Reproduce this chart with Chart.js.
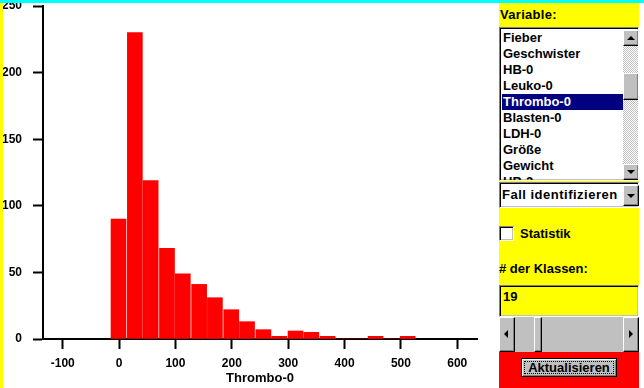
<!DOCTYPE html>
<html lang="de">
<head>
  <title>Thrombo-0 Histogramm</title>
  <script src="https://cdn.jsdelivr.net/npm/chart.js"></script>
  <style>
    body { margin: 0; width: 644px; height: 388px; overflow: hidden; background: #fff; position: relative;
           font: bold 13px "Liberation Sans", Arial, sans-serif; color: #000; }
    .abs { position: absolute; box-sizing: border-box; }
    #chartBox { left: 0; top: 0; width: 499px; height: 388px; }
    .sunken { border: 1px solid; border-color: #808080 #fff #fff #808080; box-shadow: inset 1px 1px #000, inset -1px -1px #c0c0c0; }
    .raised { background: #c0c0c0; border: 1px solid; border-color: #fff #000 #000 #fff; box-shadow: inset -1px -1px #808080; }
    .lbl { line-height: 16px; white-space: nowrap; }
    .item { height: 16px; line-height: 16px; padding-left: 1px; white-space: nowrap; }
    .item.sel { background: #000080; color: #fff; width: 121px; }
    .tri-up, .tri-down, .tri-left, .tri-right { position: absolute; width: 0; height: 0; border: solid transparent; }
    .tri-up { border-width: 0 4px 4px 4px; border-bottom-color: #000; left: 3px; top: 5px; }
    .tri-down { border-width: 4px 4px 0 4px; border-top-color: #000; left: 3px; top: 5px; }
    .tri-left { border-width: 4px 4px 4px 0; border-right-color: #000; left: 4px; top: 12px; }
    .tri-right { border-width: 4px 0 4px 4px; border-left-color: #000; left: 5px; top: 12px; }
  </style>
</head>
<body>
<div id="chartBox" class="abs"><canvas id="histChart"></canvas></div>

<div class="abs" style="left:0;top:0;width:3px;height:388px;background:#ffff00"></div>

<div class="abs" style="left:499px;top:3px;width:140px;height:349px;background:#ffff00"></div>
<div class="abs" style="left:499px;top:352px;width:140px;height:36px;background:#ff0000"></div>

<div class="abs lbl" style="left:500px;top:7px;letter-spacing:0.3px">Variable:</div>

<div class="abs sunken" style="left:499px;top:27px;width:140px;height:154px;background:#fff;overflow:hidden">
  <div id="varList" class="abs" style="left:2px;top:2px;width:121px;height:150px;overflow:hidden"></div>
  <div class="abs" style="left:123px;top:2px;width:16px;height:150px;background:repeating-conic-gradient(#c0c0c0 0 25%, #fff 0 50%) 0 0/2px 2px">
    <div class="abs raised" style="left:0;top:0;width:16px;height:16px"><div class="tri-up"></div></div>
    <div class="abs raised" style="left:0;top:43px;width:16px;height:27px"></div>
    <div class="abs raised" style="left:0;top:134px;width:16px;height:16px"><div class="tri-down"></div></div>
  </div>
</div>

<div class="abs sunken" style="left:499px;top:182px;width:140px;height:26px;background:#fff">
  <div class="abs lbl" style="left:2px;top:4px;letter-spacing:0.5px">Fall identifizieren</div>
  <div class="abs raised" style="left:123px;top:2px;width:16px;height:21px"><div class="tri-down" style="top:8px"></div></div>
</div>

<div class="abs sunken" style="left:499px;top:226px;width:15px;height:15px;background:#fff"></div>
<div class="abs lbl" style="left:520px;top:226px">Statistik</div>

<div class="abs lbl" style="left:499px;top:261px"># der Klassen:</div>

<div class="abs sunken" style="left:499px;top:285px;width:140px;height:32px;background:#ffff00">
  <div class="abs lbl" style="left:3px;top:3px">19</div>
</div>

<div class="abs" style="left:499px;top:317px;width:140px;height:35px;background:#c0c0c0">
  <div class="abs raised" style="left:0;top:0;width:16px;height:35px"><div class="tri-left"></div></div>
  <div class="abs raised" style="left:35px;top:0;width:8px;height:35px"></div>
  <div class="abs raised" style="left:124px;top:0;width:16px;height:35px"><div class="tri-right"></div></div>
</div>

<div class="abs" style="left:521px;top:358px;width:96px;height:19px;background:#c0c0c0;border:1px solid #000;box-shadow:inset 1px 1px #fff, inset -1px -1px #808080">
  <div class="abs lbl" style="left:2px;top:2px;width:90px;height:13px;border:1px dotted #000;line-height:11px;text-align:center">Aktualisieren</div>
</div>

<div class="abs" style="left:0;top:0;width:644px;height:3px;background:#00ffff"></div>

<script>
  // histogram of Thrombo-0, 19 classes
  const binCenters = [-1, 28, 56, 85, 113, 142, 170, 199, 227, 256, 284, 313, 341, 370, 398, 427, 455, 484, 512];
  const counts = [90, 230, 119, 68, 49, 41, 31, 22, 13, 7, 2, 6, 5, 2, 0, 0, 2, 0, 2];
  const xTickValues = [-100, 0, 100, 200, 300, 400, 500, 600];
  const yTickValues = [0, 50, 100, 150, 200, 250];
  const variables = ['Fieber', 'Geschwister', 'HB-0', 'Leuko-0', 'Thrombo-0', 'Blasten-0', 'LDH-0', 'Größe', 'Gewicht', 'HB-2'];
  const selectedVar = 'Thrombo-0';

  const list = document.getElementById('varList');
  variables.forEach(v => {
    const d = document.createElement('div');
    d.className = 'item' + (v === selectedVar ? ' sel' : '');
    d.textContent = v;
    list.appendChild(d);
  });

  const tickFont = { family: '"Liberation Sans", Arial, sans-serif', size: 12, weight: 'bold', lineHeight: 1 };

  function noPad(s) {
    s.paddingLeft = 0; s.paddingRight = 0; s.paddingTop = 0; s.paddingBottom = 0;
  }

  const ctx = document.getElementById('histChart').getContext('2d');
  new Chart(ctx, {
    type: 'bar',
    data: {
      datasets: [{
        data: binCenters.map((c, i) => ({ x: c, y: counts[i] })),
        backgroundColor: '#ff0000',
        borderWidth: 0,
        barThickness: 15
      }]
    },
    options: {
      responsive: true,
      maintainAspectRatio: false,
      animation: false,
      layout: { padding: { top: 6, right: 22, left: 0, bottom: 0 } },
      plugins: { legend: { display: false }, tooltip: { enabled: false } },
      scales: {
        x: {
          type: 'linear',
          min: -135,
          max: 635,
          offset: false,
          afterBuildTicks: s => { s.ticks = xTickValues.map(v => ({ value: v })); },
          afterFit: s => { s.height = 49; noPad(s); },
          grid: { offset: false, drawOnChartArea: false, tickLength: 10, tickWidth: 2, color: '#000' },
          border: { color: '#000', width: 2 },
          ticks: { color: '#000', padding: 9, maxRotation: 0, font: tickFont },
          title: {
            display: true, text: 'Thrombo-0', color: '#000',
            font: { family: '"Liberation Sans", Arial, sans-serif', size: 13, weight: 'bold' },
            padding: { top: 0, bottom: 2 }
          }
        },
        y: {
          min: 0,
          max: 250,
          afterBuildTicks: s => { s.ticks = yTickValues.map(v => ({ value: v })); },
          afterFit: s => { s.width = 43; noPad(s); },
          grid: { drawOnChartArea: false, tickLength: 10, tickWidth: 2, color: '#000' },
          border: { color: '#000', width: 2 },
          ticks: { color: '#000', padding: 11, font: tickFont }
        }
      }
    }
  });
</script>
</body>
</html>
